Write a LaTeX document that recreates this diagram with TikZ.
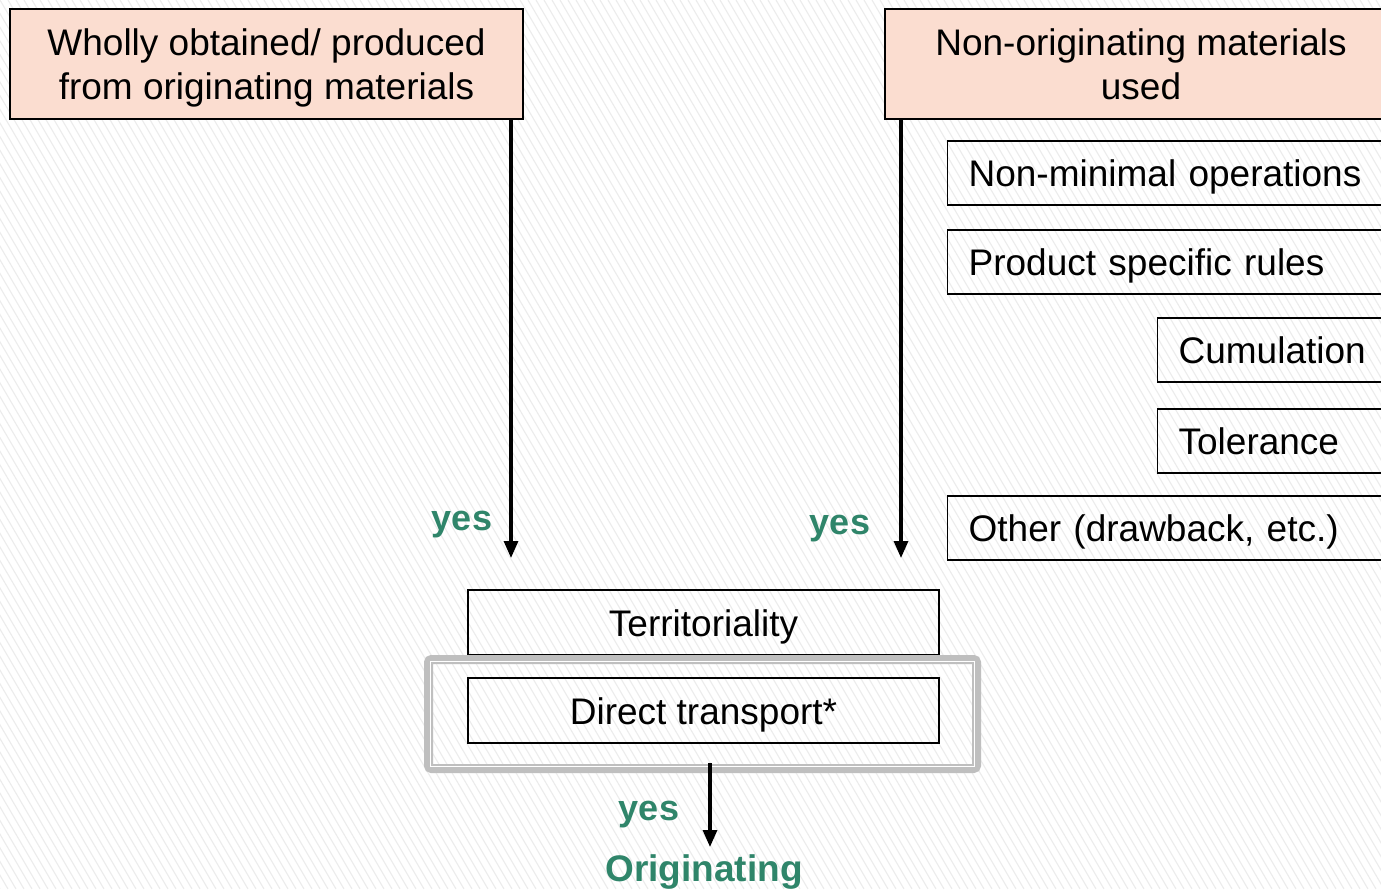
\documentclass[tikz,border=0pt]{standalone}
\usepackage{fontspec}
\setmainfont{Liberation Sans}
\usetikzlibrary{arrows.meta,positioning}
\definecolor{peach}{RGB}{251,221,208}
\definecolor{yesgreen}{RGB}{47,133,106}
\definecolor{framegray}{RGB}{191,191,191}
\definecolor{hatchgray}{RGB}{236,236,236}
\newcommand{\topstrut}{\rule{0pt}{35pt}}
\newcommand{\botstrut}{\rule[-8pt]{0pt}{8pt}}

\begin{document}
\begin{tikzpicture}[
    x=1pt, y=-1pt,
    font=\fontsize{37}{44}\selectfont,
    source/.style={rectangle, draw, line width=1.2pt, fill=peach, align=center, minimum height=110pt},
    rule/.style={rectangle, draw, line width=1.2pt, anchor=west, minimum height=64pt, text width=#1, align=left, inner xsep=21pt, text height=32pt, text depth=5pt},
    check/.style={rectangle, draw, line width=1.2pt, minimum width=471pt, minimum height=65pt, text height=32pt, text depth=5pt},
    answer/.style={text=yesgreen, font=\fontsize{36}{40}\selectfont\bfseries},
    arrow/.style={-{Triangle[length=17pt,width=14pt]}, line width=3.2pt},
]
\useasboundingbox (0,0) rectangle (1381,889);
\clip (0,0) rectangle (1381,889);
\fill[white] (0,0) rectangle (1381,889);
% background hatch
\foreach \i in {-560,-552,...,1390}
    \draw[hatchgray, line width=1.1pt] (\i,0) -- ++(520,889);

\node[source, minimum width=513pt] (whole) at (266.5,64) {\topstrut Wholly obtained/ produced\\from originating materials\botstrut};
\node[source, minimum width=512pt] (nonorig) at (1141,64) {\topstrut Non-originating materials\\used\botstrut};

% side notes
\node[rule=440pt] (nonmin) at (947,173) {Non-minimal operations};
\node[rule=440pt] (psr) at (947,262) {Product specific rules};
\node[rule=230pt] (cumul) at (1157,350) {Cumulation};
\node[rule=230pt] (toler) at (1157,441) {Tolerance};
\node[rule=440pt] (other) at (947,528) {Other (drawback, etc.)};

\node[check] (territ) at (703.5,622.5) {Territoriality};
\node[check] (direct) at (703.5,710.5) {Direct transport*};
\draw[framegray, line width=9pt, rounded corners=3pt] (428.5,659.5) rectangle (976.5,768.5);
\draw[white, line width=1.3pt] (430.8,661.8) rectangle (974.2,766.2);
\coordinate (frame) at (710,763);

\coordinate (endA) at (511,558);
\coordinate (endB) at (901,558);
\draw[arrow] (whole.south -| endA) -- (endA);
\draw[arrow] (nonorig.south -| endB) -- (endB);
\node[answer] (yesA) at (462,525) {yes};
\node[answer] (yesB) at (840,529) {yes};

\node[answer, font=\fontsize{37}{40}\selectfont\bfseries] (orig) at (704,872) {Originating};
\coordinate (endC) at (710,847);
\draw[arrow] (frame) -- (endC);
\node[answer] (yesC) at (649,815) {yes};
\end{tikzpicture}
\end{document}
